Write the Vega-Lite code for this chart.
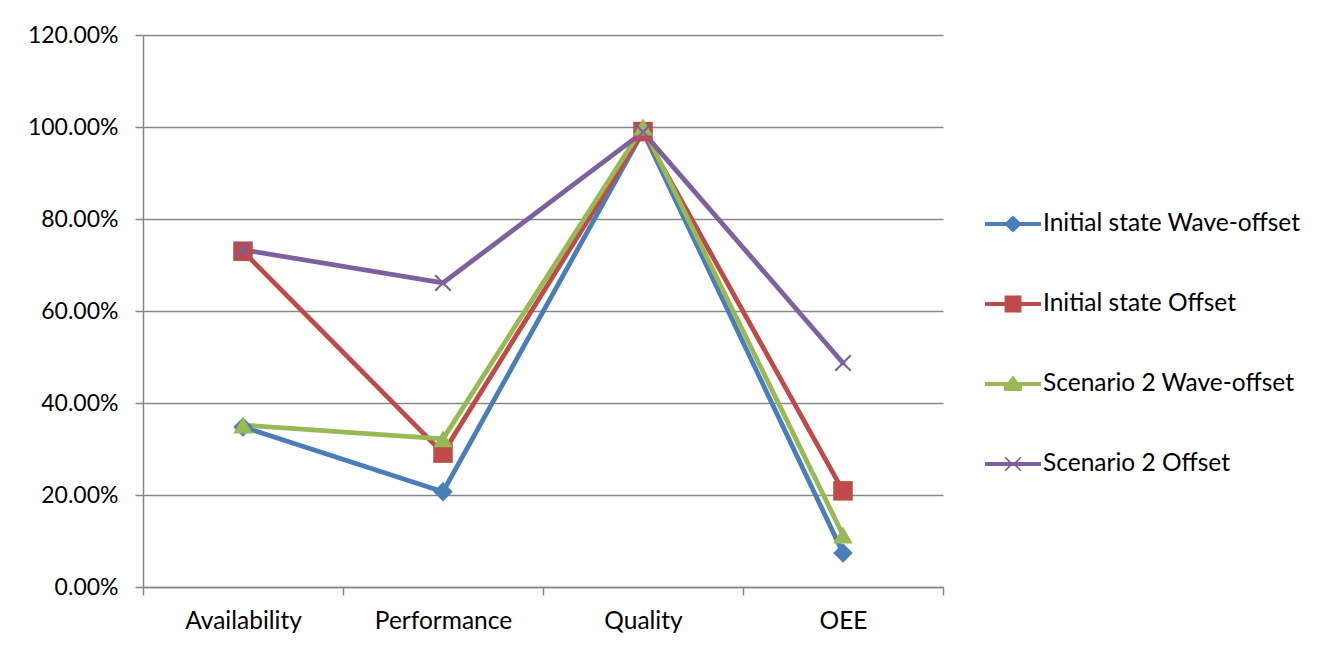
{
  "$schema": "https://vega.github.io/schema/vega-lite/v6.json",
  "autosize": {"type": "none"},
  "width": 800,
  "height": 552,
  "padding": {"left": 143, "top": 35, "right": 388, "bottom": 65},
  "background": "white",
  "config": {
    "view": {"stroke": null},
    "font": "Lato",
    "axis": {
      "labelFont": "Lato",
      "labelFontSize": 23,
      "labelColor": "#000000",
      "domainColor": "#878787",
      "domainWidth": 1.5,
      "tickColor": "#878787",
      "tickWidth": 1.5,
      "tickSize": 8,
      "gridColor": "#878787",
      "gridWidth": 1.3,
      "title": null
    }
  },
  "data": {
    "values": [
      {"metric": "Availability", "series": "Initial state Wave-offset", "value": 0.348},
      {"metric": "Performance", "series": "Initial state Wave-offset", "value": 0.207},
      {"metric": "Quality", "series": "Initial state Wave-offset", "value": 0.99},
      {"metric": "OEE", "series": "Initial state Wave-offset", "value": 0.074},
      {"metric": "Availability", "series": "Initial state Offset", "value": 0.73},
      {"metric": "Performance", "series": "Initial state Offset", "value": 0.291},
      {"metric": "Quality", "series": "Initial state Offset", "value": 0.99},
      {"metric": "OEE", "series": "Initial state Offset", "value": 0.209},
      {"metric": "Availability", "series": "Scenario 2 Wave-offset", "value": 0.352},
      {"metric": "Performance", "series": "Scenario 2 Wave-offset", "value": 0.322},
      {"metric": "Quality", "series": "Scenario 2 Wave-offset", "value": 1.0},
      {"metric": "OEE", "series": "Scenario 2 Wave-offset", "value": 0.113},
      {"metric": "Availability", "series": "Scenario 2 Offset", "value": 0.733},
      {"metric": "Performance", "series": "Scenario 2 Offset", "value": 0.661},
      {"metric": "Quality", "series": "Scenario 2 Offset", "value": 0.989},
      {"metric": "OEE", "series": "Scenario 2 Offset", "value": 0.487}
    ]
  },
  "encoding": {
    "x": {
      "field": "metric",
      "type": "nominal",
      "sort": ["Availability", "Performance", "Quality", "OEE"],
      "scale": {"type": "band", "paddingInner": 0, "paddingOuter": 0},
      "axis": {
        "labelAngle": 0,
        "labelFontSize": 24.5,
        "tickBand": "extent",
        "labelPadding": 14,
        "grid": false
      }
    },
    "y": {
      "field": "value",
      "type": "quantitative",
      "scale": {"domain": [0, 1.2], "nice": false, "zero": true},
      "axis": {
        "format": ".2%",
        "values": [0, 0.2, 0.4, 0.6, 0.8, 1.0, 1.2],
        "grid": true,
        "labelPadding": 17
      }
    },
    "color": {
      "field": "series",
      "type": "nominal",
      "scale": {
        "domain": ["Initial state Wave-offset", "Initial state Offset", "Scenario 2 Wave-offset", "Scenario 2 Offset"],
        "range": ["#4A7EBB", "#BE4B48", "#98B954", "#7D60A0"]
      },
      "legend": {
        "title": null,
        "orient": "none",
        "legendX": 842,
        "legendY": 161,
        "padding": 0,
        "symbolSize": 3136,
        "rowPadding": 40,
        "labelOffset": 2,
        "labelFont": "Lato",
        "labelFontSize": 24.5,
        "labelColor": "#000000",
        "labelLimit": 400,
        "encode": {
          "symbols": {
            "update": {
              "shape": {
                "signal": "datum.value === 'Initial state Wave-offset' ? 'M-1,-0.07L-0.25,-0.07L0,-0.3L0.25,-0.07L1,-0.07L1,0.07L0.25,0.07L0,0.3L-0.25,0.07L-1,0.07Z' : datum.value === 'Initial state Offset' ? 'M-1,-0.07L-0.3,-0.07L-0.3,-0.3L0.3,-0.3L0.3,-0.07L1,-0.07L1,0.07L0.3,0.07L0.3,0.3L-0.3,0.3L-0.3,0.07L-1,0.07Z' : datum.value === 'Scenario 2 Wave-offset' ? 'M-1,-0.07L-0.18,-0.07L0,-0.3L0.18,-0.07L1,-0.07L1,0.07L0.32,0.07L0.32,0.25L-0.32,0.25L-0.32,0.07L-1,0.07Z' : 'M-1,-0.07L-0.16,-0.07L-0.3,-0.22L-0.26,-0.26L-0.07,-0.07L0.07,-0.07L0.26,-0.26L0.3,-0.22L0.16,-0.07L1,-0.07L1,0.07L0.16,0.07L0.3,0.22L0.26,0.26L0.07,0.07L-0.07,0.07L-0.26,0.26L-0.3,0.22L-0.16,0.07L-1,0.07Z'"
              },
              "fill": {"signal": "scale('color', datum.value)"},
              "stroke": {"value": "transparent"},
              "strokeWidth": {"value": 0},
              "opacity": {"value": 1}
            }
          }
        }
      }
    }
  },
  "layer": [
    {
      "mark": {"type": "line", "strokeWidth": 4.8, "strokeJoin": "round", "strokeCap": "round"}
    },
    {
      "transform": [{"filter": "datum.series === 'Initial state Wave-offset'"}],
      "mark": {"type": "point", "filled": true, "opacity": 1, "size": 380, "shape": "diamond"}
    },
    {
      "transform": [{"filter": "datum.series === 'Initial state Offset'"}],
      "mark": {"type": "point", "filled": true, "opacity": 1, "size": 380, "shape": "square"}
    },
    {
      "transform": [{"filter": "datum.series === 'Scenario 2 Wave-offset'"}],
      "mark": {"type": "point", "filled": true, "opacity": 1, "size": 380, "shape": "triangle-up"}
    },
    {
      "transform": [{"filter": "datum.series === 'Scenario 2 Offset'"}],
      "mark": {
        "type": "point",
        "filled": true,
        "opacity": 1,
        "size": 380,
        "shape": "M0,-0.15L0.72,-0.87L0.87,-0.72L0.15,0L0.87,0.72L0.72,0.87L0,0.15L-0.72,0.87L-0.87,0.72L-0.15,0L-0.87,-0.72L-0.72,-0.87Z"
      }
    }
  ]
}
